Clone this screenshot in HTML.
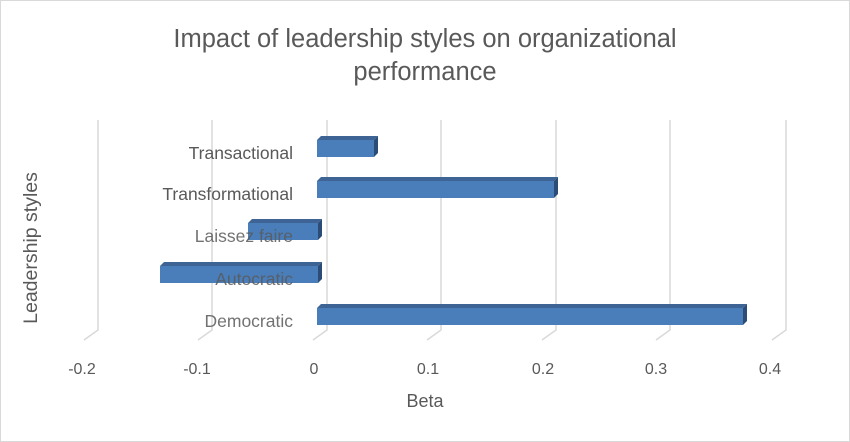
<!DOCTYPE html>
<html><head><style>
body{margin:0;background:#fff}
svg{display:block;font-family:"Liberation Sans",sans-serif}
</style></head><body>
<svg width="850" height="442" viewBox="0 0 850 442" xmlns="http://www.w3.org/2000/svg">
<rect x="0.5" y="0.5" width="849" height="441" fill="#fff" stroke="#d9d9d9"/>
<text x="425" y="47" text-anchor="middle" font-size="25.5" fill="#595959">Impact of leadership styles on organizational</text>
<text x="425" y="80" text-anchor="middle" font-size="25.5" fill="#595959">performance</text>
<g stroke="#d9d9d9" stroke-width="1.5" fill="none">
<polyline points="98,120 98,330 84,340"/>
<polyline points="212,120 212,330 198,340"/>
<polyline points="327,120 327,330 313,340"/>
<polyline points="441,120 441,330 427,340"/>
<polyline points="556,120 556,330 542,340"/>
<polyline points="670,120 670,330 656,340"/>
<polyline points="786,120 786,330 772,340"/>
</g>
<g font-size="16" fill="#595959" text-anchor="middle">
<text x="82" y="374">-0.2</text><text x="197" y="374">-0.1</text><text x="314" y="374">0</text>
<text x="428" y="374">0.1</text><text x="543" y="374">0.2</text><text x="656" y="374">0.3</text><text x="770" y="374">0.4</text>
</g>
<text x="425" y="407" text-anchor="middle" font-size="18" fill="#595959">Beta</text>
<text transform="translate(37,248) rotate(-90)" text-anchor="middle" font-size="19.5" fill="#595959">Leadership styles</text>
<g font-size="17.5" fill="#595959" text-anchor="end">
<text x="293" y="159">Transactional</text>
<text x="293" y="200">Transformational</text>
</g>
<g>
<g><polygon points="317,140 321,136 378,136 374,140" fill="#3d6494"/><polygon points="374,140 378,136 378,153 374,157" fill="#2c4c78"/><rect x="317" y="140" width="57" height="17" fill="#4a7ebb"/></g>
<g><polygon points="317,181 321,177 558,177 554,181" fill="#3d6494"/><polygon points="554,181 558,177 558,194 554,198" fill="#2c4c78"/><rect x="317" y="181" width="237" height="17" fill="#4a7ebb"/></g>
<g><polygon points="248,223 252,219 322,219 318,223" fill="#3d6494"/><polygon points="318,223 322,219 322,236 318,240" fill="#2c4c78"/><rect x="248" y="223" width="70" height="17" fill="#4a7ebb"/></g>
<g><polygon points="160,266 164,262 322,262 318,266" fill="#3d6494"/><polygon points="318,266 322,262 322,279 318,283" fill="#2c4c78"/><rect x="160" y="266" width="158" height="17" fill="#4a7ebb"/></g>
<g><polygon points="317,308 321,304 747,304 743,308" fill="#3d6494"/><polygon points="743,308 747,304 747,321 743,325" fill="#2c4c78"/><rect x="317" y="308" width="426" height="17" fill="#4a7ebb"/></g>
</g>
<g font-size="17.5" fill="#595959" fill-opacity="0.85" text-anchor="end">
<text x="293" y="242">Laissez faire</text>
<text x="293" y="285">Autocratic</text>
<text x="293" y="327">Democratic</text>
</g>
</svg>
</body></html>
